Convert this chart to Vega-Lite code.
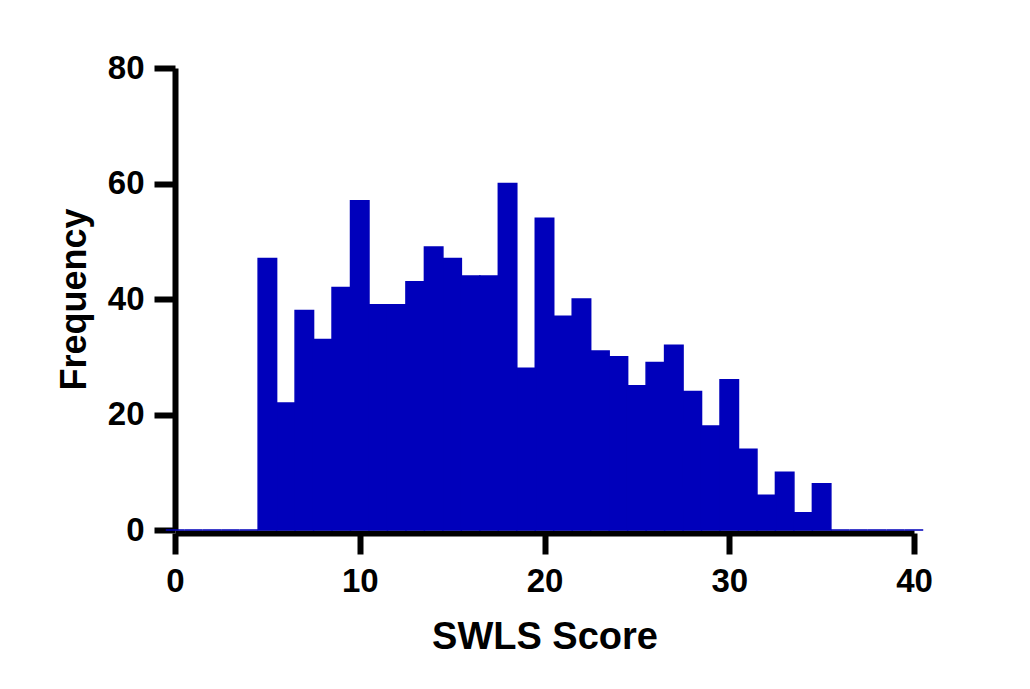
{
  "$schema": "https://vega.github.io/schema/vega-lite/v6.json",
  "autosize": "none",
  "width": 739,
  "height": 462,
  "padding": {"left": 175, "top": 68, "right": 116, "bottom": 159},
  "background": "white",
  "config": {
    "view": {"stroke": null},
    "font": "Liberation Sans",
    "axis": {
      "grid": false,
      "domainColor": "black",
      "domainWidth": 6,
      "tickColor": "black",
      "tickWidth": 6,
      "tickSize": 21,
      "labelFlush": false,
      "labelFont": "Liberation Sans",
      "labelFontWeight": "bold",
      "labelFontSize": 33,
      "labelColor": "black",
      "titleFont": "Liberation Sans",
      "titleFontWeight": "bold",
      "titleColor": "black"
    }
  },
  "data": {
    "values": [
      {"score": 0, "lo": -0.5, "hi": 0.5, "count": 0},
      {"score": 1, "lo": 0.5, "hi": 1.5, "count": 0},
      {"score": 2, "lo": 1.5, "hi": 2.5, "count": 0},
      {"score": 3, "lo": 2.5, "hi": 3.5, "count": 0},
      {"score": 4, "lo": 3.5, "hi": 4.5, "count": 0},
      {"score": 5, "lo": 4.5, "hi": 5.5, "count": 47},
      {"score": 6, "lo": 5.5, "hi": 6.5, "count": 22},
      {"score": 7, "lo": 6.5, "hi": 7.5, "count": 38},
      {"score": 8, "lo": 7.5, "hi": 8.5, "count": 33},
      {"score": 9, "lo": 8.5, "hi": 9.5, "count": 42},
      {"score": 10, "lo": 9.5, "hi": 10.5, "count": 57},
      {"score": 11, "lo": 10.5, "hi": 11.5, "count": 39},
      {"score": 12, "lo": 11.5, "hi": 12.5, "count": 39},
      {"score": 13, "lo": 12.5, "hi": 13.5, "count": 43},
      {"score": 14, "lo": 13.5, "hi": 14.5, "count": 49},
      {"score": 15, "lo": 14.5, "hi": 15.5, "count": 47},
      {"score": 16, "lo": 15.5, "hi": 16.5, "count": 44},
      {"score": 17, "lo": 16.5, "hi": 17.5, "count": 44},
      {"score": 18, "lo": 17.5, "hi": 18.5, "count": 60},
      {"score": 19, "lo": 18.5, "hi": 19.5, "count": 28},
      {"score": 20, "lo": 19.5, "hi": 20.5, "count": 54},
      {"score": 21, "lo": 20.5, "hi": 21.5, "count": 37},
      {"score": 22, "lo": 21.5, "hi": 22.5, "count": 40},
      {"score": 23, "lo": 22.5, "hi": 23.5, "count": 31},
      {"score": 24, "lo": 23.5, "hi": 24.5, "count": 30},
      {"score": 25, "lo": 24.5, "hi": 25.5, "count": 25},
      {"score": 26, "lo": 25.5, "hi": 26.5, "count": 29},
      {"score": 27, "lo": 26.5, "hi": 27.5, "count": 32},
      {"score": 28, "lo": 27.5, "hi": 28.5, "count": 24},
      {"score": 29, "lo": 28.5, "hi": 29.5, "count": 18},
      {"score": 30, "lo": 29.5, "hi": 30.5, "count": 26},
      {"score": 31, "lo": 30.5, "hi": 31.5, "count": 14},
      {"score": 32, "lo": 31.5, "hi": 32.5, "count": 6},
      {"score": 33, "lo": 32.5, "hi": 33.5, "count": 10},
      {"score": 34, "lo": 33.5, "hi": 34.5, "count": 3},
      {"score": 35, "lo": 34.5, "hi": 35.5, "count": 8},
      {"score": 36, "lo": 35.5, "hi": 36.5, "count": 0},
      {"score": 37, "lo": 36.5, "hi": 37.5, "count": 0},
      {"score": 38, "lo": 37.5, "hi": 38.5, "count": 0},
      {"score": 39, "lo": 38.5, "hi": 39.5, "count": 0},
      {"score": 40, "lo": 39.5, "hi": 40.5, "count": 0}
    ]
  },
  "mark": {"type": "bar", "color": "#0000BB", "stroke": "#0000BB", "strokeWidth": 1.5, "clip": false},
  "encoding": {
    "x": {
      "field": "lo",
      "type": "quantitative",
      "scale": {"domain": [0, 40], "nice": false, "zero": false},
      "axis": {
        "title": "SWLS Score",
        "values": [0, 10, 20, 30, 40],
        "offset": 3,
        "titleFontSize": 38,
        "titlePadding": 20,
        "labelPadding": 11
      }
    },
    "x2": {"field": "hi"},
    "y": {
      "field": "count",
      "type": "quantitative",
      "scale": {"domain": [0, 80], "nice": false},
      "axis": {
        "title": "Frequency",
        "values": [0, 20, 40, 60, 80],
        "titleFontSize": 36,
        "titlePadding": 14,
        "labelPadding": 10
      }
    },
    "y2": {"datum": 0}
  }
}
